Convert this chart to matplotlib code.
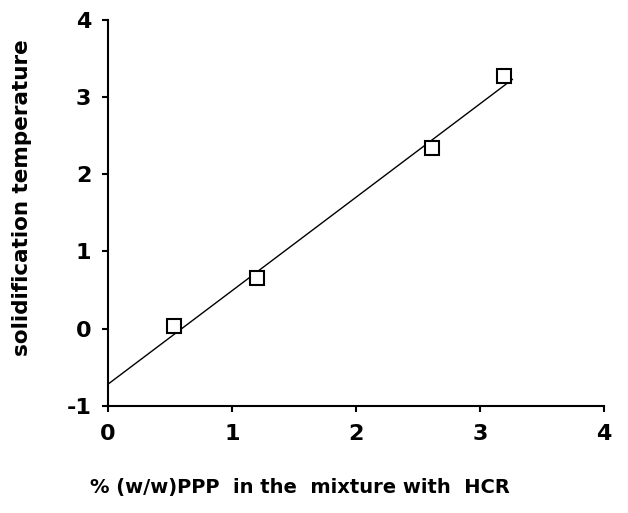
import matplotlib
matplotlib.use("Agg")
import matplotlib.pyplot as plt

ppp_pct = [0.53, 1.20, 2.61, 3.19]
solid_temp = [0.04, 0.66, 2.34, 3.27]

# regression line end points
fit_x = [0.0, 3.26]
fit_y = [-0.72, 3.23]

x_ticks = [0, 1, 2, 3, 4]
y_ticks = [-1, 0, 1, 2, 3, 4]

plt.rcParams['font.family'] = ['DejaVu Sans']
plt.rcParams['font.weight'] = 'bold'
plt.rcParams['axes.unicode_minus'] = False

fig = plt.figure(figsize=(6.28, 5.13), dpi=100)
ax = fig.add_axes([0.172, 0.209, 0.790, 0.752])

ax.plot(fit_x, fit_y, color='black', linewidth=1.0)
ax.plot(ppp_pct, solid_temp, linestyle='none', marker='s', markersize=10,
        markerfacecolor='white', markeredgecolor='black', markeredgewidth=1.5)

ax.set_xlim(0, 4)
ax.set_ylim(-1, 4)
ax.set_xticks(x_ticks)
ax.set_yticks(y_ticks)

for side in ['top', 'right']:
    ax.spines[side].set_visible(False)
for side in ['left', 'bottom']:
    ax.spines[side].set_linewidth(1.5)

ax.tick_params(axis='both', direction='out', length=4, width=1.5, labelsize=16)
ax.tick_params(axis='x', pad=9)
ax.tick_params(axis='y', pad=8)
for lab in ax.get_xticklabels() + ax.get_yticklabels():
    lab.set_fontweight('bold')

ax.set_ylabel("solidification temperature", fontsize=15.5, fontweight='bold')
ax.yaxis.set_label_coords(-0.153, 0.54)
ax.set_xlabel("% (w/w)PPP  in the  mixture with  HCR", fontsize=14, fontweight='bold')
ax.xaxis.set_label_coords(0.387, -0.187)

fig.savefig("out.png", dpi=100)
